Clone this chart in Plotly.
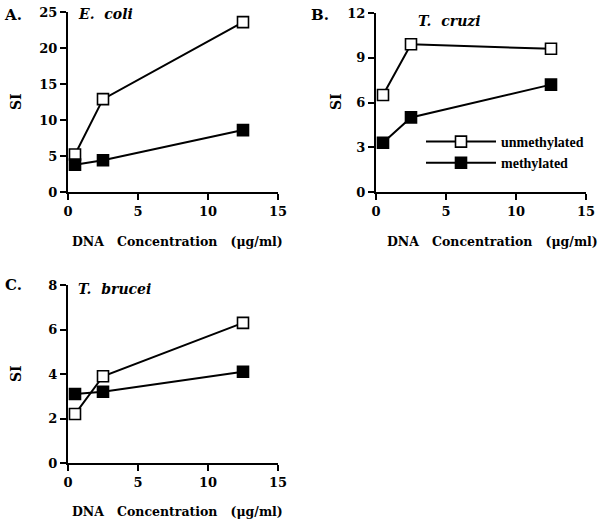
import plotly.graph_objects as go

# DNA concentration (ug/ml)
conc = [0.5, 2.5, 12.5]

ecoli_unmeth = [5.2, 12.9, 23.6]
ecoli_meth = [3.8, 4.4, 8.6]

cruzi_unmeth = [6.5, 9.9, 9.6]
cruzi_meth = [3.3, 5.0, 7.2]

brucei_unmeth = [2.2, 3.9, 6.3]
brucei_meth = [3.1, 3.2, 4.1]

W, H = 606, 526
SERIF = "DejaVu Serif, serif"
TIMES = "Liberation Serif, Times New Roman, serif"


def px_x(p):
    return p / W


def px_y(p):
    return 1 - p / H


fig = go.Figure()

panels = [
    # (xaxis, yaxis, unmeth, meth, ymax, dtick)
    ("x", "y", ecoli_unmeth, ecoli_meth, 25, 5),
    ("x2", "y2", cruzi_unmeth, cruzi_meth, 12, 3),
    ("x3", "y3", brucei_unmeth, brucei_meth, 8, 2),
]

for i, (xa, ya, un, me, ymax, dt) in enumerate(panels):
    fig.add_trace(go.Scatter(
        x=conc, y=un, xaxis=xa, yaxis=ya, mode="lines+markers",
        name="unmethylated", showlegend=(i == 1),
        line=dict(color="black", width=2),
        marker=dict(symbol="square", size=11, color="white",
                    line=dict(color="black", width=1.6)),
        cliponaxis=False,
    ))
    fig.add_trace(go.Scatter(
        x=conc, y=me, xaxis=xa, yaxis=ya, mode="lines+markers",
        name="methylated", showlegend=(i == 1),
        line=dict(color="black", width=2),
        marker=dict(symbol="square", size=11, color="black",
                    line=dict(color="black", width=1.6)),
        cliponaxis=False,
    ))

axis_common = dict(
    showline=True, linecolor="black", linewidth=2,
    ticks="outside", ticklen=6, tickwidth=2, tickcolor="black",
    showgrid=False, zeroline=False, automargin=False,
    tickfont=dict(family=SERIF, size=13, color="black", weight="bold"),
)

# plot boxes in pixels: (left, right, top, bottom)
boxes = [(68, 278, 12, 192), (376, 586, 13, 192), (68, 278, 285, 463)]

layout = dict()
for i, ((l, r, t, b), (_, _, _, _, ymax, dt)) in enumerate(zip(boxes, panels)):
    sfx = "" if i == 0 else str(i + 1)
    layout["xaxis" + sfx] = dict(
        domain=[px_x(l), px_x(r)], range=[0, 15], dtick=5,
        anchor="y" + sfx, **axis_common)
    layout["yaxis" + sfx] = dict(
        domain=[px_y(b), px_y(t)], range=[0, ymax], dtick=dt,
        anchor="x" + sfx, **axis_common)

fig.update_layout(
    **layout,
    width=W, height=H,
    margin=dict(l=0, r=0, t=0, b=0, autoexpand=False),
    plot_bgcolor="white", paper_bgcolor="white",
    showlegend=True,
    legend=dict(
        x=px_x(421), y=px_y(126), xanchor="left", yanchor="top",
        bgcolor="rgba(0,0,0,0)", itemwidth=70, tracegroupgap=2,
        font=dict(family=TIMES, size=14, color="black", weight="bold"),
    ),
)

labels = [
    ("A.", 13, 15), ("B.", 320, 15), ("C.", 13, 285),
]
for txt, x, y in labels:
    fig.add_annotation(text=txt, x=px_x(x), y=px_y(y), xref="paper", yref="paper",
                       showarrow=False, xanchor="center", yanchor="middle",
                       font=dict(family=SERIF, size=15, color="black", weight="bold"))

titles = [
    ("E.\u00a0\u00a0coli", 76, 14), ("T.\u00a0\u00a0cruzi", 416, 21), ("T.\u00a0\u00a0brucei", 76, 289),
]
for txt, x, y in titles:
    fig.add_annotation(text=txt, x=px_x(x), y=px_y(y), xref="paper", yref="paper",
                       showarrow=False, xanchor="center" if False else "left", yanchor="middle",
                       font=dict(family=SERIF, size=14, color="black", weight="bold",
                                 style="italic"))

gap = "\u00a0" * 3
xtitle = "DNA" + gap + "Concentration" + gap + "(\u03bcg/ml)"
for x, y in [(177, 241), (492, 241), (177, 511)]:
    fig.add_annotation(text=xtitle, x=px_x(x), y=px_y(y), xref="paper", yref="paper",
                       showarrow=False, xanchor="center", yanchor="middle",
                       font=dict(family=SERIF, size=12.5, color="black", weight="bold"))

for x, y in [(16, 102), (336, 102), (16, 374)]:
    fig.add_annotation(text="SI", x=px_x(x), y=px_y(y), xref="paper", yref="paper",
                       showarrow=False, xanchor="center", yanchor="middle", textangle=-90,
                       font=dict(family=SERIF, size=14, color="black", weight="bold"))

fig.write_html("out.html", config={"displayModeBar": False},
               post_script="document.body.style.margin='0';")
